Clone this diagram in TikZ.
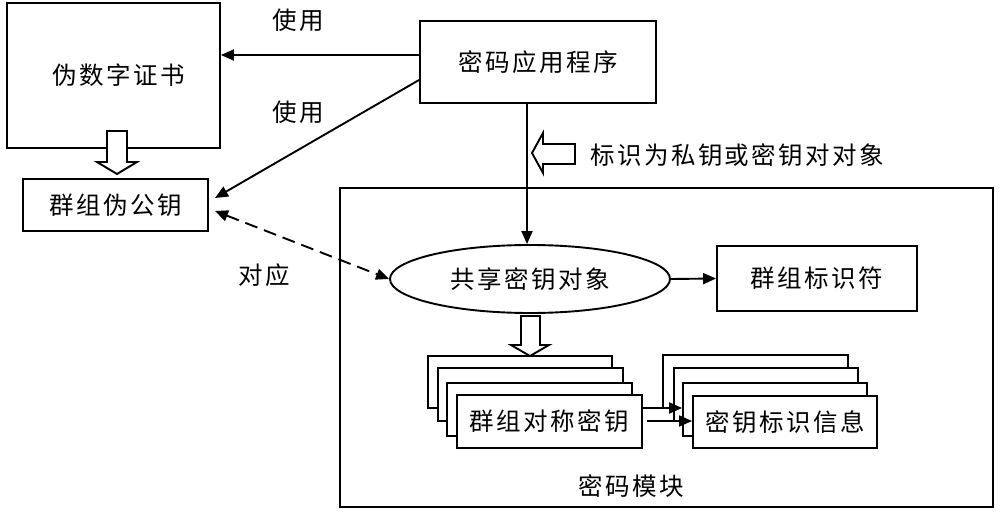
\documentclass[tikz,border=0pt]{standalone}
\usepackage{fontspec}
\setmainfont{Noto Sans CJK SC}[LetterSpace=10]
\usetikzlibrary{arrows.meta,shapes.geometric}
\begin{document}
\begin{tikzpicture}[x=1pt,y=-1pt,
  every node/.style={font=\fontsize{24.5}{28}\selectfont},
  box/.style={draw,line width=1.9pt,fill=white,inner sep=0pt},
  arr/.style={line width=1.9pt,-{Triangle[length=13pt,width=11pt]}},
  darr/.style={line width=1.9pt,dash pattern=on 13pt off 7pt,{Triangle[length=13pt,width=11pt]}-{Triangle[length=13pt,width=11pt]}},
  hollow/.style={draw,line width=1.9pt,fill=white,line join=miter},
  lbl/.style={inner sep=0pt}]
\useasboundingbox (0,0) rectangle (1000,513);
% outer module
\node[box,minimum width=653pt,minimum height=319pt] (module) at (666.5,347.5) {};
\node[lbl] (modlbl) at (631,486) {密码模块};
% top-left
\node[box,minimum width=213pt,minimum height=145pt] (cert) at (113.5,75.5) {\hspace{10pt}伪数字证书};
\node[box,minimum width=185pt,minimum height=52pt] (gpk) at (115.5,205) {群组伪公钥};
\node[box,minimum width=236pt,minimum height=82pt] (app) at (538,62) {密码应用程序};
% inside module
\node[box,ellipse,minimum width=280pt,minimum height=68pt] (shared) at (530,279) {共享密钥对象};
\node[box,minimum width=200pt,minimum height=65pt] (gid) at (817,278.5) {群组标识符};
% stacked left
\node[box,minimum width=184pt,minimum height=52pt] (L1) at (520,382) {};
\node[box,minimum width=185pt,minimum height=53pt] (L2) at (530.5,394.5) {};
\node[box,minimum width=185pt,minimum height=53pt] (L3) at (539.5,409.5) {};
\node[box,minimum width=185pt,minimum height=53pt] (L4) at (549.5,421.5) {群组对称密钥};
% stacked right
\node[box,minimum width=185pt,minimum height=53pt] (R1) at (755.5,381.5) {};
\node[box,minimum width=184pt,minimum height=53pt] (R2) at (766,394.5) {};
\node[box,minimum width=184pt,minimum height=53pt] (R3) at (775,409.5) {};
\node[box,minimum width=184pt,minimum height=52pt] (R4) at (785,422) {密钥标识信息};
% labels
\node[lbl] (use1) at (298,20) {使用};
\node[lbl] (use2) at (298,112) {使用};
\node[lbl] (corr) at (264,275) {对应};
\node[lbl,anchor=west] (mark) at (590,155) {标识为私钥或密钥对对象};
% connectors
\draw[arr] ([yshift=7pt]app.west) -- (cert.east |- 0,55);
\coordinate (gpkin) at (215,198);
\draw[arr] ([yshift=-18pt]app.west) -- (gpkin);
\coordinate (gpkout) at (215,211);
\draw[darr] (gpkout) -- (shared.west);
\draw[arr] (app.south -| 527,0) -- (shared.north -| 527,0);
\draw[arr] (shared.east) -- (gid.west);
\draw[arr] (L4.east |- 0,408) -- (R3.west |- 0,408);
\draw[arr] (647,421) coordinate (lowstart) -- (R4.west |- 0,421);
% hollow arrows
\draw[hollow] (107,131) -- (127,131) -- (127,162) -- (137,162) -- (117,174) -- (97,162) -- (107,162) -- cycle;
\draw[hollow] (575,144) -- (575,164) -- (543,164) -- (543,173) -- (532,153) -- (543,133) -- (543,144) -- cycle;
\draw[hollow] (521,316) -- (540,316) -- (540,345) -- (549,345) -- (530,356) -- (511,345) -- (521,345) -- cycle;
\end{tikzpicture}
\end{document}
